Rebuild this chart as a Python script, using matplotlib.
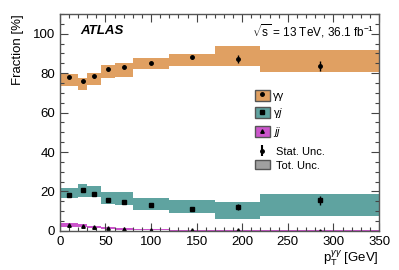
import matplotlib
matplotlib.use("Agg")
import matplotlib.pyplot as plt
from matplotlib.patches import Patch
from matplotlib.lines import Line2D
from matplotlib.ticker import MultipleLocator

plt.rcParams['font.family'] = ['Liberation Sans', 'DejaVu Sans']
plt.rcParams['mathtext.fontset'] = 'custom'
plt.rcParams['mathtext.rm'] = 'Liberation Sans'
plt.rcParams['mathtext.it'] = 'Liberation Sans:italic'

# pT bins [GeV]
bin_edges = [0, 20, 30, 45, 60, 80, 120, 170, 220, 350]
bin_centers = [10, 25, 37.5, 52.5, 70, 100, 145, 195, 285]

# gamma-gamma
gg_val = [77.9, 75.8, 78.4, 82.0, 83.2, 85.0, 88.0, 87.2, 83.7]
gg_stat = [0.6, 0.7, 0.6, 0.7, 0.7, 0.6, 0.8, 1.8, 2.4]
gg_lo = [73.4, 71.7, 73.9, 77.3, 78.3, 82.0, 83.5, 83.8, 80.7]
gg_hi = [79.6, 77.6, 80.1, 84.0, 85.0, 87.9, 89.9, 93.6, 91.9]

# gamma-jet
gj_val = [18.2, 20.9, 18.7, 15.7, 14.8, 13.3, 10.9, 12.1, 15.5]
gj_stat = [0.5, 0.6, 0.5, 0.5, 0.5, 0.5, 0.6, 1.6, 2.2]
gj_lo = [16.8, 17.0, 17.0, 13.6, 13.1, 10.5, 8.9, 6.1, 7.4]
gj_hi = [21.9, 23.7, 22.6, 19.5, 19.5, 16.8, 15.5, 14.8, 18.5]

# jet-jet
jj_val = [3.0, 2.6, 2.0, 1.3, 0.9, 0.6, 0.3, 0.2, 0.1]
jj_stat = [0.2, 0.2, 0.2, 0.1, 0.1, 0.1, 0.1, 0.1, 0.1]
jj_lo = [2.0, 1.8, 1.3, 0.7, 0.4, 0.2, 0.0, 0.0, 0.0]
jj_hi = [3.9, 3.5, 2.7, 1.9, 1.4, 1.0, 0.6, 0.5, 0.4]

c_gg = "#e0a062"
c_gj = "#5fa3a0"
c_jj = "#cc55cc"

fig = plt.figure(figsize=(3.99, 2.70), dpi=100)
ax = fig.add_axes([0.150, 0.145, 0.800, 0.803])

widths = [bin_edges[i + 1] - bin_edges[i] for i in range(len(bin_centers))]
for lo, hi, col in [(gg_lo, gg_hi, c_gg), (gj_lo, gj_hi, c_gj), (jj_lo, jj_hi, c_jj)]:
    ax.bar(bin_edges[:-1], [h - l for h, l in zip(hi, lo)], widths, bottom=lo,
           align='edge', color=col, linewidth=0)

ax.errorbar(bin_centers, gg_val, yerr=gg_stat, fmt='o', color='k', ms=2.5, elinewidth=1, capsize=0)
ax.errorbar(bin_centers, gj_val, yerr=gj_stat, fmt='s', color='k', ms=2.5, elinewidth=1, capsize=0)
ax.errorbar(bin_centers, jj_val, yerr=jj_stat, fmt='^', color='k', ms=2.5, elinewidth=1, capsize=0)

ax.set_xlim(0, 350)
ax.set_ylim(0, 110)
ax.xaxis.set_major_locator(MultipleLocator(50))
ax.xaxis.set_minor_locator(MultipleLocator(10))
ax.yaxis.set_major_locator(MultipleLocator(20))
ax.yaxis.set_minor_locator(MultipleLocator(5))
ax.tick_params(which='both', direction='in', top=True, right=True, labelsize=9.5, width=0.8, color='#444444')
ax.tick_params(which='major', length=6)
ax.tick_params(which='minor', length=3)
for s in ax.spines.values():
    s.set_color('#555555')
    s.set_linewidth(1.0)

ax.set_ylabel("Fraction [%]", fontsize=9.5, loc='top', labelpad=6)
ax.set_xlabel(r"p$_\mathrm{T}^{\gamma\gamma}$ [GeV]", fontsize=9.5, loc='right', labelpad=1)

ax.text(0.065, 0.92, "ATLAS", transform=ax.transAxes, fontsize=9.5,
        fontweight='bold', fontstyle='italic', va='center')
ax.text(0.985, 0.92, r"$\sqrt{\mathrm{s}}$ = 13 TeV, 36.1 fb$^{-1}$", transform=ax.transAxes,
        fontsize=8.5, ha='right', va='center')

h1 = [(Patch(facecolor=c_gg, edgecolor='#555555'), Line2D([], [], marker='o', color='k', ls='', ms=2.5)),
      (Patch(facecolor=c_gj, edgecolor='#555555'), Line2D([], [], marker='s', color='k', ls='', ms=2.5)),
      (Patch(facecolor=c_jj, edgecolor='#555555'), Line2D([], [], marker='^', color='k', ls='', ms=2.5))]
leg1 = ax.legend(h1, ["γγ", r"γ$j$", r"$jj$"], loc='upper left',
                 bbox_to_anchor=(0.61, 0.65), frameon=False, fontsize=8,
                 handlelength=1.4, handleheight=1.1, handletextpad=0.3, labelspacing=0.47,
                 borderpad=0, borderaxespad=0)
ax.add_artist(leg1)

h2 = [ax.errorbar([], [], yerr=[], fmt='o', color='k', ms=2.5),
      Patch(facecolor='#a0a0a0', edgecolor='#555555')]
ax.legend(h2, ["Stat. Unc.", "Tot. Unc."], loc='upper left',
          bbox_to_anchor=(0.61, 0.39), frameon=False, fontsize=8,
          handlelength=1.4, handleheight=0.9, handletextpad=0.5, labelspacing=0.3,
          borderpad=0, borderaxespad=0)

fig.savefig("out.png", dpi=100)
